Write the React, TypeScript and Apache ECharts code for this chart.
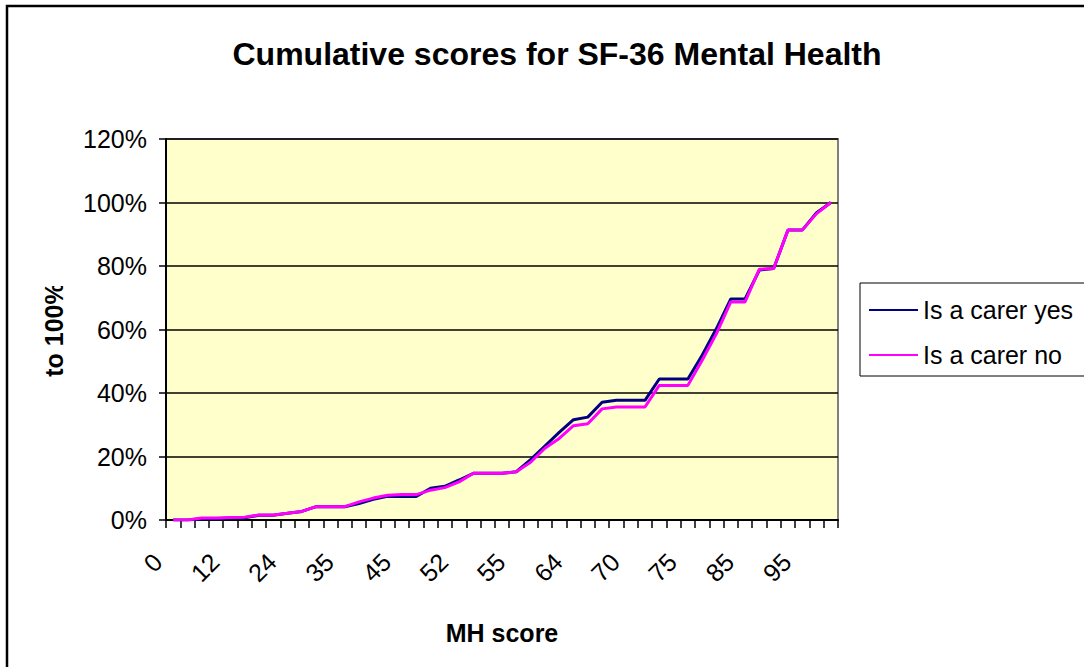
import React, { useEffect, useRef } from "react";
import * as echarts from "echarts";

const titleText = "Cumulative scores for SF-36 Mental Health";
const xAxisName = "MH score";
const yAxisName = "to 100%";
const seriesNames = ["Is a carer yes", "Is a carer no"];

const categories = [
  "0", "4", "8", "10", "12", "15", "16", "20", "24", "25", "28", "32",
  "35", "36", "40", "44", "45", "48", "50", "51", "52", "52.5", "53", "54",
  "55", "56", "58", "60", "64", "65", "66", "68", "70", "72", "73", "74",
  "75", "76", "80", "82", "85", "88", "90", "92", "95", "96", "100",
];

const carerYes = [
  0, 0, 0.4, 0.4, 0.6, 0.7, 1.5, 1.5, 2.1, 2.7, 4.2, 4.2,
  4.2, 5.2, 6.5, 7.5, 7.4, 7.4, 10.0, 10.6, 12.6, 14.7, 14.7, 14.7,
  15.2, 19.0, 23.3, 27.6, 31.6, 32.4, 37.1, 37.7, 37.7, 37.7, 44.4, 44.4,
  44.4, 51.9, 60.3, 69.6, 69.6, 78.7, 79.2, 91.3, 91.3, 96.8, 100,
];

const carerNo = [
  0, 0, 0.6, 0.6, 0.8, 0.9, 1.6, 1.6, 2.1, 2.7, 4.2, 4.2,
  4.2, 5.7, 6.9, 7.8, 8.0, 8.0, 9.4, 10.2, 12.0, 14.7, 14.7, 14.7,
  15.2, 18.2, 22.6, 25.7, 29.7, 30.3, 35.0, 35.6, 35.6, 35.6, 42.4, 42.4,
  42.4, 50.3, 58.7, 68.7, 68.7, 79.0, 79.2, 91.3, 91.3, 96.5, 100,
];

const FONT = "'Liberation Sans', Arial, sans-serif";

export default function App() {
  const ref = useRef<HTMLDivElement>(null);
  useEffect(() => {
    if (!ref.current) return;
    const chart = echarts.init(ref.current, null, { renderer: "svg" });
    chart.setOption({
      animation: false,
      backgroundColor: "#ffffff",
      title: {
        text: titleText,
        left: 552,
        top: 33,
        textAlign: "center",
        textStyle: { fontFamily: FONT, fontSize: 32, fontWeight: "bold", color: "#000" },
      },
      legend: {
        left: 860,
        top: 283,
        orient: "vertical",
        padding: [12, 40, 6, 9],
        itemGap: 15,
        itemWidth: 49,
        itemHeight: 2,
        icon: "rect",
        borderColor: "#000",
        borderWidth: 1,
        backgroundColor: "#fff",
        textStyle: { fontFamily: FONT, fontSize: 25, color: "#000", lineHeight: 30 },
        data: seriesNames,
      },
      grid: {
        left: 166,
        right: 246,
        top: 139,
        bottom: 147,
        show: true,
        backgroundColor: "#FFFFCC",
        borderColor: "#808080",
        borderWidth: 2,
      },
      xAxis: {
        type: "category",
        data: categories,
        boundaryGap: true,
        name: xAxisName,
        nameLocation: "middle",
        nameGap: 100,
        nameTextStyle: { fontFamily: FONT, fontSize: 25, fontWeight: "bold", color: "#000" },
        axisLine: { show: true, lineStyle: { color: "#000", width: 2 } },
        axisTick: { show: true, length: 8, interval: 0, lineStyle: { color: "#000", width: 1.5 } },
        axisLabel: {
          interval: 3,
          rotate: 45,
          margin: 22,
          padding: [0, 22, 0, 0],
          fontFamily: FONT,
          fontSize: 25,
          color: "#000",
        },
        splitLine: { show: false },
      },
      yAxis: {
        type: "value",
        min: 0,
        max: 120,
        interval: 20,
        name: yAxisName,
        nameLocation: "middle",
        nameRotate: 90,
        nameGap: 100,
        nameTextStyle: { fontFamily: FONT, fontSize: 25, fontWeight: "bold", color: "#000" },
        axisLine: { show: true, lineStyle: { color: "#000", width: 2 } },
        axisTick: { show: true, length: 7, lineStyle: { color: "#000", width: 1.5 } },
        axisLabel: {
          margin: 19,
          formatter: "{value}%",
          fontFamily: FONT,
          fontSize: 25,
          color: "#000",
        },
        splitLine: { show: true, lineStyle: { color: "#000", width: 1.5 } },
      },
      series: [
        {
          name: seriesNames[0],
          type: "line",
          data: carerYes,
          symbol: "none",
          lineStyle: { color: "#000080", width: 3 },
          itemStyle: { color: "#000080" },
        },
        {
          name: seriesNames[1],
          type: "line",
          data: carerNo,
          symbol: "none",
          lineStyle: { color: "#FF00FF", width: 3 },
          itemStyle: { color: "#FF00FF" },
        },
      ],
      graphic: [
        {
          type: "rect",
          z: 100,
          shape: { x: 30, y: 200, width: 45, height: 86 },
          style: { fill: "#ffffff" },
        },
        {
          type: "rect",
          z: 101,
          shape: { x: 7, y: 6, width: 1200, height: 800 },
          style: { fill: "none", stroke: "#000", lineWidth: 2.5 },
          silent: true,
        },
      ],
    });
    return () => chart.dispose();
  }, []);
  return (
    <div
      ref={ref}
      style={{ position: "fixed", left: 0, top: 0, width: 1084, height: 667 }}
    />
  );
}
